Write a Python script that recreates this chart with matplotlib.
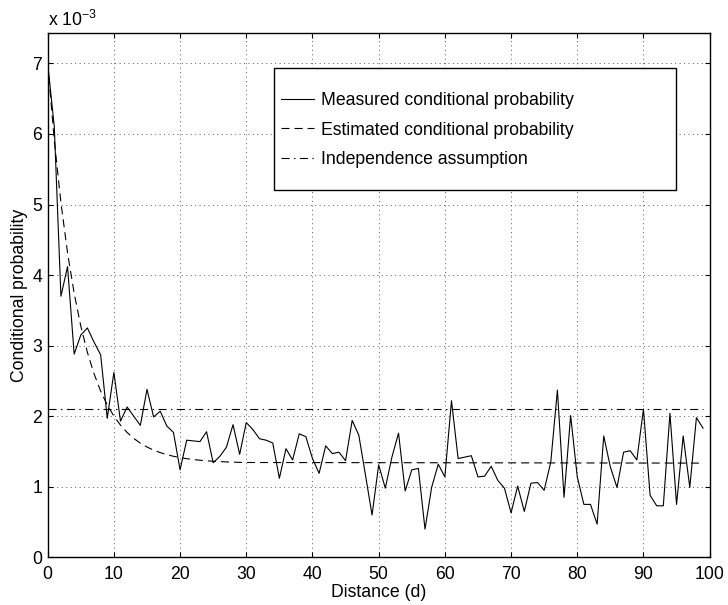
import matplotlib
matplotlib.use('Agg')
import matplotlib.pyplot as plt
from matplotlib.patches import Rectangle

plt.rcParams['font.family'] = ['Liberation Sans', 'DejaVu Sans']
plt.rcParams['font.size'] = 12.7
plt.rcParams['lines.scale_dashes'] = False
plt.rcParams['mathtext.default'] = 'regular'

# distance d = 0..99, probabilities in units of 1e-3
distance = list(range(100))
measured = [7.00, 6.10, 3.70, 4.12, 2.88, 3.15, 3.25, 3.05, 2.87, 1.97,
            2.62, 1.93, 2.13, 2.00, 1.87, 2.38, 1.99, 2.07, 1.86, 1.77,
            1.24, 1.66, 1.65, 1.64, 1.78, 1.34, 1.43, 1.56, 1.88, 1.46,
            1.91, 1.81, 1.68, 1.66, 1.62, 1.12, 1.54, 1.38, 1.75, 1.71,
            1.40, 1.19, 1.58, 1.47, 1.49, 1.37, 1.94, 1.73, 1.17, 0.60,
            1.31, 0.98, 1.42, 1.76, 0.94, 1.24, 1.26, 0.40, 0.99, 1.32,
            1.14, 2.22, 1.40, 1.42, 1.44, 1.14, 1.15, 1.29, 1.09, 0.98,
            0.63, 1.01, 0.65, 1.05, 1.06, 0.95, 1.35, 2.37, 0.85, 2.01,
            1.14, 0.75, 0.75, 0.47, 1.72, 1.28, 0.99, 1.49, 1.51, 1.38,
            2.10, 0.88, 0.73, 0.73, 2.04, 0.75, 1.72, 0.99, 1.98, 1.83]

est_distance = list(range(31)) + [99]
estimated = [7.000, 5.907, 5.028, 4.315, 3.742, 3.278, 2.904, 2.602, 2.355, 2.160,
             2.001, 1.873, 1.769, 1.685, 1.618, 1.563, 1.519, 1.484, 1.455, 1.432,
             1.413, 1.398, 1.386, 1.376, 1.368, 1.362, 1.357, 1.352, 1.349, 1.346,
             1.344, 1.335]

independence = 2.105

labels = ['Measured conditional probability',
          'Estimated conditional probability',
          'Independence assumption']

fig = plt.figure(figsize=(7.28, 6.05), dpi=100)
ax = fig.add_axes([0.0655, 0.0788, 0.9093, 0.8666])

ax.plot(distance, measured, color='black', lw=0.8, label=labels[0])
ax.plot(est_distance, estimated, color='black', lw=0.8,
        linestyle=(0, (5.8, 3.6)), label=labels[1])
ax.plot([0, 99], [independence, independence], color='black', lw=0.8,
        linestyle=(0, (5.8, 3.2, 1.0, 3.2)), label=labels[2])

ax.set_xlim(0, 100)
ax.set_ylim(0, 7.43)
ax.set_xticks(range(0, 101, 10))
ax.set_yticks(range(0, 8))
ax.grid(True, color='0.35', linestyle=(0, (0.7, 2.5)), lw=0.7)
ax.tick_params(direction='in', top=True, right=True, length=3.6, width=0.8)
ax.tick_params(axis='x', pad=6)
ax.tick_params(axis='y', pad=4)
for s in ax.spines.values():
    s.set_linewidth(1.0)

ax.set_xlabel('Distance (d)', labelpad=1)
ax.set_ylabel('Conditional probability', labelpad=3)
ax.text(0, 1.0134, r'x 10$^{-3}$', transform=ax.transAxes, va='baseline', ha='left')

# legend box
ax.add_patch(Rectangle((0.342, 0.7008), 0.6068, 0.2319, transform=ax.transAxes,
                       facecolor='white', edgecolor='black', lw=1.0, zorder=4))
ax.legend(loc='center left', bbox_to_anchor=(0.3524, 0.815), frameon=False,
          borderpad=0, borderaxespad=0, handlelength=1.85, handletextpad=0.42,
          labelspacing=0.72)

fig.savefig('out.png', dpi=100)
